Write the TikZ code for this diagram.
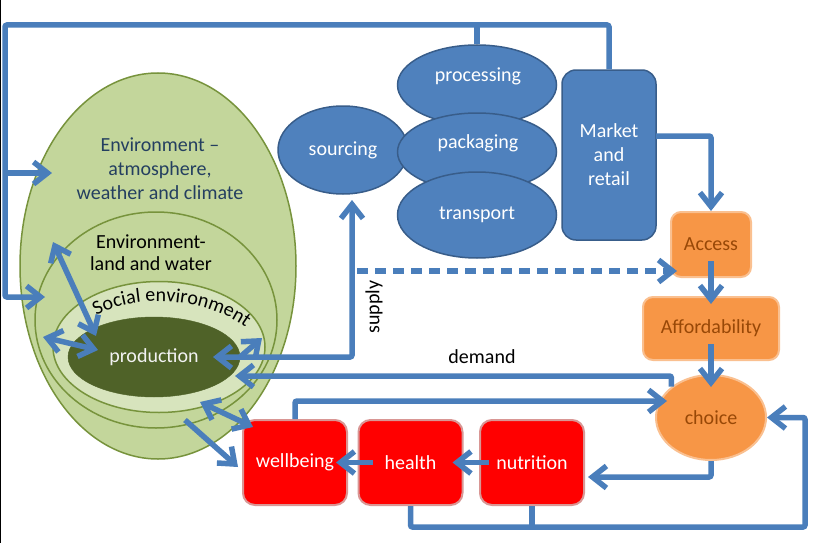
\documentclass[tikz,border=0pt]{standalone}
\usepackage{fontspec}
\setmainfont{Carlito}
\usetikzlibrary{shapes.geometric,arrows.meta,decorations.text}
\definecolor{lineblue}{HTML}{4A7EBB}
\definecolor{envfill}{HTML}{C3D69B}
\definecolor{envdraw}{HTML}{77933C}
\definecolor{socfill}{HTML}{D7E4BD}
\definecolor{prodfill}{HTML}{4F6228}
\definecolor{chainfill}{HTML}{4F81BD}
\definecolor{chaindraw}{HTML}{385D8A}
\definecolor{orfill}{HTML}{F79646}
\definecolor{ordraw}{HTML}{FAC090}
\definecolor{ortext}{HTML}{984807}
\definecolor{redfill}{HTML}{FF0000}
\definecolor{reddraw}{HTML}{D99694}
\definecolor{envtext}{HTML}{243F60}
\begin{document}
\begin{tikzpicture}[x=1pt,y=-1pt,
  every node/.style={font=\fontsize{20}{24}\selectfont, inner sep=0pt},
  envell/.style={ellipse, draw=envdraw, fill=envfill, line width=1.5pt},
  chainell/.style={ellipse, draw=chaindraw, fill=chainfill, line width=1.5pt, text=white},
  orbox/.style={rectangle, rounded corners=10pt, draw=ordraw, fill=orfill, line width=2pt, text=ortext},
  redbox/.style={rectangle, rounded corners=12pt, draw=reddraw, fill=redfill, line width=2pt, text=white, minimum width=104pt, minimum height=85pt},
  conn/.style={draw=lineblue, line width=5.5pt},
  arr/.style={conn, -{Straight Barb[length=14pt,width=22pt]}},
  darr/.style={conn, {Straight Barb[length=14pt,width=22pt]}-{Straight Barb[length=14pt,width=22pt]}},
  dashline/.style={dash pattern=on 11pt off 7pt}
]
\useasboundingbox (0,0) rectangle (816,543);
\fill[white] (0,0) rectangle (816,543);
\draw[black, line width=1pt] (0.5,0) -- (0.5,543);

% environment ellipses
\node[envell, minimum width=276pt, minimum height=386pt] (env) at (158,266) {};
\node[envell, minimum width=242pt, minimum height=216pt] (land) at (156,320) {};
\node[envell, fill=socfill, minimum width=212pt, minimum height=131pt] (social) at (159,347) {};
\node[ellipse, fill=prodfill, draw=prodfill, minimum width=172pt, minimum height=80pt, text=white!95!black] (prod) at (154,357) {production};

\node[text=envtext, align=center] (envlbl) at (160,169) {Environment –\\atmosphere,\\weather and climate};
\node[align=center, font=\fontsize{20}{22}\selectfont] (landlbl) at (151,253) {Environment-\\land and water};
\path[decorate, decoration={text along path, text align=center,
   text={|\fontsize{20}{24}\selectfont|Social environment}}]
   (90,320) .. controls (120,296) and (200,290) .. (252,332);

% supply chain
\node[chainell, minimum width=130pt, minimum height=88pt] (src) at (343,150) {sourcing};
\node[chainell, minimum width=159pt, minimum height=80pt] (proc) at (477,85) {};
\node[text=white] (proclbl) at (478,76) {processing};
\node[chainell, minimum width=159pt, minimum height=78pt] (pack) at (477,152) {};
\node[text=white] (packlbl) at (478,143) {packaging};
\node[chainell, minimum width=159pt, minimum height=86pt] (trans) at (477,215) {transport};
\node[rectangle, rounded corners=14pt, draw=chaindraw, fill=chainfill, line width=1.5pt, text=white,
      minimum width=94pt, minimum height=170pt, align=center] (market) at (609,155) {Market\\and\\retail};

% consumer side
\node[orbox, minimum width=80pt, minimum height=65pt] (access) at (711,244.5) {Access};
\node[orbox, minimum width=136pt, minimum height=63pt] (afford) at (711,328.5) {Affordability};
\node[ellipse, draw=ordraw, fill=orfill, line width=2pt, text=ortext, minimum width=110pt, minimum height=85pt] (choice) at (711,417.5) {choice};

\node[redbox] (well) at (295,462.5) {wellbeing};
\node[redbox] (health) at (410.5,462.5) {health};
\node[redbox] (nutr) at (532,462.5) {nutrition};

\node (demandlbl) at (482,357) {demand};
\node[rotate=90] (supplylbl) at (374,307) {supply};

% coordinates
\coordinate (topL) at (5,25);
\coordinate (envIn1) at (52,173);
\coordinate (envIn1s) at (5,173);
\coordinate (envIn2) at (45,297);
\coordinate (mktOut) at (656,136);
\coordinate (cn) at (588,477);
\coordinate (bl) at (805,527);
\coordinate (wc) at (667,401);
\coordinate (dend) at (235,376);
\coordinate (pa) at (262,338);
\coordinate (pb) at (240,357);
\coordinate (pc) at (213,357);
\coordinate (srcIn) at (352,200);
\coordinate (dashStart) at (357,271);
\coordinate (accIn) at (677,271);
\coordinate (e1a) at (53,242);
\coordinate (e1b) at (96,336);
\coordinate (e2a) at (43,337);
\coordinate (e2b) at (98,350);
\coordinate (e3a) at (200,402);
\coordinate (e3b) at (253,427);
\coordinate (e4a) at (185,420);
\coordinate (e4b) at (238,467);

% connectors
\draw[arr, rounded corners=2pt] (market.north) |- (topL) |- (envIn2);
\draw[arr] (envIn1s) -- (envIn1);
\draw[conn] (proc.north) -- (proc.north |- topL);
\draw[arr, rounded corners=2pt] (mktOut) -| (access.north);
\draw[arr] ([yshift=17pt]access.south) -- ([yshift=-8pt]afford.north);
\draw[arr] ([yshift=17pt]afford.south) -- ([yshift=-13pt]choice.north);
\draw[arr, rounded corners=2pt] (choice.south) |- (cn);
\draw[arr] ([xshift=10pt]nutr.west) -- ([xshift=-11pt]health.east);
\draw[arr] ([xshift=15pt]health.west) -- ([xshift=-12pt]well.east);
\draw[arr, rounded corners=2pt] (health.south) |- (bl) |- (choice.east);
\draw[conn] (nutr.south) -- (nutr.south |- bl);
\draw[arr, rounded corners=2pt] (well.north) |- (wc);
\draw[arr, rounded corners=2pt] (choice.north west) |- (dend);
\draw[darr] (pa) -- (pb) -- (pc);
\draw[arr, rounded corners=2pt] (pb) -| (srcIn);
\draw[arr, dashline] (dashStart) -- (accIn);
\draw[darr] (e1a) -- (e1b);
\draw[darr] (e2a) -- (e2b);
\draw[darr] (e3a) -- (e3b);
\draw[arr] (e4a) -- (e4b);
\end{tikzpicture}
\end{document}
